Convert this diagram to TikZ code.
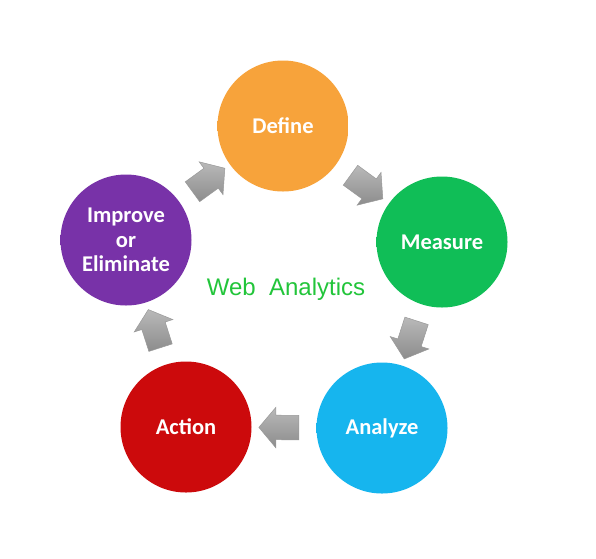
\documentclass[tikz,border=0pt]{standalone}
\usepackage{fontspec}
\newfontfamily\calfont{Carlito}
\newfontfamily\arialfont{Liberation Sans}
\usetikzlibrary{shapes.arrows}
\definecolor{cdef}{HTML}{F7A33B}
\definecolor{cmea}{HTML}{10BE57}
\definecolor{cana}{HTML}{16B5EE}
\definecolor{cact}{HTML}{CC0A0C}
\definecolor{cimp}{HTML}{7832A8}
\definecolor{cweb}{HTML}{22C53A}
\colorlet{discc}{gray}
\pgfdeclareradialshading[discc]{disc}{\pgfpoint{0bp}{0bp}}{color(0bp)=(discc);color(43bp)=(discc);color(50bp)=(discc!78!black)}
\tikzset{
  disc/.style={circle, minimum size=131pt, inner sep=0pt, /utils/exec={\colorlet{discc}{#1}}, shading=disc,
    text=white, font=\calfont\bfseries\fontsize{22.5}{24.5}\selectfont, align=center},
  blockarrow/.style={single arrow, draw=gray!80, line width=0.5pt, minimum height=40pt,
    single arrow head extend=8pt, single arrow head indent=0pt, inner sep=0pt, single arrow tip angle=100,
    top color=gray!55, bottom color=gray!90, shading angle=0, sloped, allow upside down}
}
\newcommand{\shaft}{\rule{0pt}{24pt}}
\begin{document}
\begin{tikzpicture}[x=1pt,y=-1pt]
\useasboundingbox[fill=white] (0,0) rectangle (596,558);
\node[disc=cdef] (def) at (283,126) {Define};
\node[disc=cmea] (mea) at (442,242) {Measure};
\node[disc=cana] (ana) at (382,428) {Analyze};
\node[disc=cact] (act) at (186,427) {Action};
\node[disc=cimp] (imp) at (126,240) {Improve\\or\\Eliminate};
\node[text=cweb, font=\arialfont\fontsize{24}{27}\selectfont] (web) at (286,289) {Web\ \ Analytics};
\path (imp) -- node[blockarrow] (a1) {\shaft} (def);
\path (def) -- node[blockarrow] (a2) {\shaft} (mea);
\path (mea) -- node[blockarrow] (a3) {\shaft} (ana);
\path (ana) -- node[blockarrow] (a4) {\shaft} (act);
\path (act) -- node[blockarrow] (a5) {\shaft} (imp);
\end{tikzpicture}
\end{document}
